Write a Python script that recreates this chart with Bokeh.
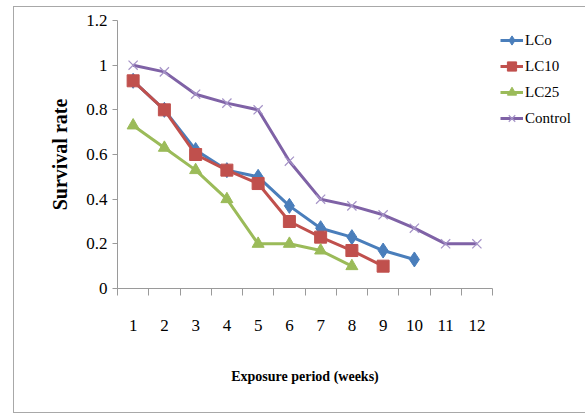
from bokeh.plotting import figure
from bokeh.models import FixedTicker, Legend, LegendItem, Range1d
from bokeh.embed import file_html
from bokeh.resources import INLINE

weeks = [1, 2, 3, 4, 5, 6, 7, 8, 9, 10, 11, 12]
week_labels = ["1", "2", "3", "4", "5", "6", "7", "8", "9", "10", "11", "12"]
y_ticks = [0, 0.2, 0.4, 0.6, 0.8, 1.0, 1.2]
y_tick_labels = ["0", "0.2", "0.4", "0.6", "0.8", "1", "1.2"]

lc0 = [0.93, 0.80, 0.62, 0.53, 0.50, 0.37, 0.27, 0.23, 0.17, 0.13]
lc10 = [0.93, 0.80, 0.60, 0.53, 0.47, 0.30, 0.23, 0.17, 0.10]
lc25 = [0.73, 0.63, 0.53, 0.40, 0.20, 0.20, 0.17, 0.10]
control = [1.00, 0.97, 0.87, 0.83, 0.80, 0.57, 0.40, 0.37, 0.33, 0.27, 0.20, 0.20]

SERIF = "Liberation Serif"
AXIS_GRAY = "#9a9a9a"

p = figure(frame_width=375, frame_height=268, output_backend="svg", toolbar_location=None,
           x_range=Range1d(0.5, 12.5), y_range=Range1d(0, 1.2),
           min_border_left=103, min_border_right=10, min_border_top=13,
           min_border_bottom=124)
p.styles = {"border": "1px solid #a8a8a8", "margin-left": "13px", "margin-top": "6px"}
p.outline_line_color = None
p.xgrid.grid_line_color = None
p.ygrid.grid_line_color = None
p.background_fill_color = "white"
p.border_fill_color = "white"

# y axis
ya = p.yaxis[0]
ya.ticker = FixedTicker(ticks=y_ticks)
ya.major_label_overrides = {t: l for t, l in zip(y_ticks, y_tick_labels)}
ya.minor_tick_line_color = None
ya.major_tick_in = 0
ya.major_tick_out = 5
ya.major_tick_line_color = AXIS_GRAY
ya.axis_line_color = AXIS_GRAY
ya.major_label_text_font = SERIF
ya.major_label_text_font_size = "17px"
ya.major_label_text_color = "black"
ya.major_label_standoff = 5
ya.axis_label = "Survival rate"
ya.axis_label_text_font = SERIF
ya.axis_label_text_font_style = "bold"
ya.axis_label_text_font_size = "20px"
ya.axis_label_text_color = "black"
ya.axis_label_standoff = 12

# x axis: labels at week centres, tick marks at boundaries
xa = p.xaxis[0]
bounds = [w - 0.5 for w in weeks] + [weeks[-1] + 0.5]
xa.ticker = FixedTicker(ticks=weeks, minor_ticks=bounds)
xa.major_label_overrides = {w: l for w, l in zip(weeks, week_labels)}
xa.major_tick_line_color = None
xa.major_tick_in = 0
xa.major_tick_out = 0
xa.minor_tick_line_color = AXIS_GRAY
xa.minor_tick_in = 0
xa.minor_tick_out = 7
xa.axis_line_color = AXIS_GRAY
xa.major_label_text_font = SERIF
xa.major_label_text_font_size = "17px"
xa.major_label_text_color = "black"
xa.major_label_standoff = 24
xa.axis_label = "Exposure period (weeks)"
xa.axis_label_text_font = SERIF
xa.axis_label_text_font_style = "bold"
xa.axis_label_text_font_size = "14px"
xa.axis_label_text_color = "black"
xa.axis_label_standoff = 35

series = [
    ("LCo", lc0, "#4a7ebb", "diamond", 15),
    ("LC10", lc10, "#c0504d", "square", 12),
    ("LC25", lc25, "#9bbb59", "triangle", 12),
]
items = []
for name, vals, col, marker, size in series:
    xs = weeks[:len(vals)]
    ln = p.line(xs, vals, line_color=col, line_width=3)
    mk = p.scatter(xs, vals, marker=marker, size=size, fill_color=col, line_color=col)
    items.append(LegendItem(label=name, renderers=[ln, mk]))

ln = p.line(weeks, control, line_color="#7f62a6", line_width=3)
mk = p.scatter(weeks, control, marker="x", size=13, line_color="#a593c7", line_width=1.2)
items.append(LegendItem(label="Control", renderers=[ln, mk]))

legend = Legend(items=items, location=(8, 157), orientation="vertical",
                label_text_font=SERIF, label_text_font_size="15px",
                label_text_color="black",
                glyph_width=23, glyph_height=26, label_height=26,
                label_standoff=2, spacing=0, padding=0, margin=0,
                border_line_color=None, background_fill_alpha=0)
p.add_layout(legend, "right")
p.min_border_right = 87

open("out.html", "w").write(file_html(p, INLINE))
